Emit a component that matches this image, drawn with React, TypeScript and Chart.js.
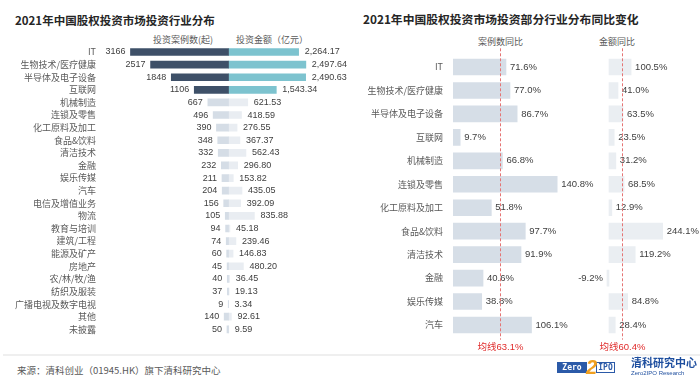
import React, { useEffect, useRef } from "react";
import { Chart, registerables } from "chart.js";
Chart.register(...registerables);

// ---------- data ----------
const leftCategories = [
  "IT", "生物技术/医疗健康", "半导体及电子设备", "互联网", "机械制造", "连锁及零售",
  "化工原料及加工", "食品&饮料", "清洁技术", "金融", "娱乐传媒", "汽车",
  "电信及增值业务", "物流", "教育与培训", "建筑/工程", "能源及矿产", "房地产",
  "农/林/牧/渔", "纺织及服装", "广播电视及数字电视", "其他", "未披露",
];
const caseCounts = [3166, 2517, 1848, 1106, 667, 496, 390, 348, 332, 232, 211, 204, 156, 105, 94, 74, 60, 45, 40, 37, 9, 140, 50];
const investAmounts = [2264.17, 2497.64, 2490.63, 1543.34, 621.53, 418.59, 276.55, 367.37, 562.43, 296.8, 153.82, 435.05, 392.09, 835.88, 45.18, 239.46, 146.83, 480.2, 36.45, 19.13, 3.34, 92.61, 9.59];
const highlightTop = 4;

const rightCategories = [
  "IT", "生物技术/医疗健康", "半导体及电子设备", "互联网", "机械制造", "连锁及零售",
  "化工原料及加工", "食品&饮料", "清洁技术", "金融", "娱乐传媒", "汽车",
];
const caseYoY = [71.6, 77.0, 86.7, 9.7, 66.8, 140.8, 51.8, 97.7, 91.9, 40.6, 38.8, 106.1];
const amountYoY = [100.5, 41.0, 63.5, 23.5, 31.2, 68.5, 12.9, 244.1, 119.2, -9.2, 84.8, 28.4];
const caseYoYMean = 63.1;
const amountYoYMean = 60.4;

// ---------- style ----------
const FONT = "'Liberation Sans', 'Noto Sans CJK SC', sans-serif";
const CJK = "'Noto Sans CJK SC', 'Liberation Sans', sans-serif";
const LABEL_COLOR = "#404040";
const AXIS_COLOR = "#595959";

const fmtAmount = (v: number) =>
  v.toLocaleString("en-US", { minimumFractionDigits: 2, maximumFractionDigits: 2 });

function leftLabelsPlugin() {
  return {
    id: "leftLabels",
    afterDatasetsDraw(chart: any) {
      const ctx = chart.ctx;
      ctx.save();
      ctx.font = `9px ${FONT}`;
      ctx.fillStyle = LABEL_COLOR;
      ctx.textBaseline = "middle";
      const m0 = chart.getDatasetMeta(0);
      const m1 = chart.getDatasetMeta(1);
      m0.data.forEach((el: any, i: number) => {
        ctx.textAlign = "right";
        ctx.fillText(String(caseCounts[i]), el.x - 5, el.y);
      });
      m1.data.forEach((el: any, i: number) => {
        ctx.textAlign = "left";
        ctx.fillText(fmtAmount(investAmounts[i]), el.x + 6, el.y);
      });
      ctx.restore();
    },
  };
}

function yoyPlugin(values: number[], mean: number) {
  return {
    id: "yoyLabels",
    afterDatasetsDraw(chart: any) {
      const ctx = chart.ctx;
      const area = chart.chartArea;
      ctx.save();
      ctx.font = `9.5px ${FONT}`;
      ctx.fillStyle = LABEL_COLOR;
      ctx.textBaseline = "middle";
      const meta = chart.getDatasetMeta(0);
      meta.data.forEach((el: any, i: number) => {
        const v = values[i];
        const t = v.toFixed(1) + "%";
        if (v >= 0) {
          ctx.textAlign = "left";
          ctx.fillText(t, el.x + 4, el.y);
        } else {
          ctx.textAlign = "right";
          ctx.fillText(t, el.x - 4, el.y);
        }
      });
      const mx = Math.round(chart.scales.x.getPixelForValue(mean)) + 0.5;
      ctx.strokeStyle = "#e57373";
      ctx.lineWidth = 1;
      ctx.setLineDash([3, 2]);
      ctx.beginPath();
      ctx.moveTo(mx, area.top - 7);
      ctx.lineTo(mx, area.bottom + 3);
      ctx.stroke();
      ctx.setLineDash([]);
      ctx.fillStyle = "#e02b2b";
      ctx.textAlign = "center";
      ctx.font = `9.5px ${FONT}`;
      ctx.fillText("均线" + mean.toFixed(1) + "%", mx, area.bottom + 10.5);
      ctx.restore();
    },
  };
}

export default function App() {
  const leftRef = useRef<HTMLCanvasElement>(null);
  const caseRef = useRef<HTMLCanvasElement>(null);
  const amtRef = useRef<HTMLCanvasElement>(null);

  useEffect(() => {
    const charts: Chart[] = [];

    charts.push(
      new Chart(leftRef.current!, {
        type: "bar",
        data: {
          labels: leftCategories,
          datasets: [
            {
              label: "投资案例数(起)",
              data: caseCounts.map((v) => -v),
              backgroundColor: caseCounts.map((_, i) => (i < highlightTop ? "#3e5068" : "#d5dde6")),
              barThickness: 7,
            },
            {
              label: "投资金额（亿元）",
              data: investAmounts,
              backgroundColor: investAmounts.map((_, i) => (i < highlightTop ? "#7dc3cf" : "#e9edf2")),
              barThickness: 7,
            },
          ],
        },
        options: {
          indexAxis: "y",
          responsive: false,
          animation: false,
          layout: { padding: { top: 45.7, bottom: 7.7, left: 0, right: 10 } },
          plugins: { legend: { display: false }, tooltip: { enabled: false } },
          scales: {
            x: { stacked: true, display: false, min: -4150, max: 3600 },
            y: {
              stacked: true,
              grid: { display: false, drawTicks: false },
              border: { display: false },
              ticks: { color: AXIS_COLOR, font: { size: 9, family: CJK }, padding: 4, autoSkip: false },
              afterFit: (s: any) => { s.width = 100; },
            },
          },
        } as any,
        plugins: [leftLabelsPlugin()],
      })
    );

    charts.push(
      new Chart(caseRef.current!, {
        type: "bar",
        data: {
          labels: rightCategories,
          datasets: [{ label: "案例数同比", data: caseYoY, backgroundColor: "#d6dee7", barThickness: 16 }],
        },
        options: {
          indexAxis: "y",
          responsive: false,
          animation: false,
          layout: { padding: { top: 55.3, bottom: 18.3, left: 0, right: 28.6 } },
          plugins: { legend: { display: false }, tooltip: { enabled: false } },
          scales: {
            x: { display: false, min: 0, max: 160 },
            y: {
              grid: { display: false, drawTicks: false },
              border: { display: false },
              ticks: { color: AXIS_COLOR, font: { size: 9, family: CJK }, padding: 10, autoSkip: false },
              afterFit: (s: any) => { s.width = 103; },
            },
          },
        } as any,
        plugins: [yoyPlugin(caseYoY, caseYoYMean)],
      })
    );

    charts.push(
      new Chart(amtRef.current!, {
        type: "bar",
        data: {
          labels: rightCategories,
          datasets: [{ label: "金额同比", data: amountYoY, backgroundColor: "#eaeef2", barThickness: 16 }],
        },
        options: {
          indexAxis: "y",
          responsive: false,
          animation: false,
          layout: { padding: { top: 55.3, bottom: 18.3, left: 27, right: 3 } },
          plugins: { legend: { display: false }, tooltip: { enabled: false } },
          scales: {
            x: { display: false, min: -100, max: 400 },
            y: { display: false },
          },
        } as any,
        plugins: [yoyPlugin(amountYoY, amountYoYMean)],
      })
    );

    return () => charts.forEach((c) => c.destroy());
  }, []);

  const abs = (s: React.CSSProperties): React.CSSProperties => ({ position: "absolute", whiteSpace: "nowrap", ...s });

  return (
    <div style={{ position: "absolute", left: 0, top: 0, width: 700, height: 382, background: "#fff", overflow: "hidden", fontFamily: CJK }}>
      <div style={abs({ left: 15, top: 11, fontSize: 11.5, fontWeight: 700, color: "#262626", lineHeight: "18px" })}>
        2021年中国股权投资市场投资行业分布
      </div>
      <div style={abs({ left: 363, top: 10, fontSize: 11.8, fontWeight: 700, color: "#262626", lineHeight: "18px" })}>
        2021年中国股权投资市场投资部分行业分布同比变化
      </div>

      <div style={abs({ left: 153, top: 33, fontSize: 9, color: AXIS_COLOR, lineHeight: "14px" })}>投资案例数(起)</div>
      <div style={abs({ left: 236, top: 33, fontSize: 9, color: AXIS_COLOR, lineHeight: "14px" })}>投资金额（亿元）</div>

      <div style={abs({ left: 478, top: 35, fontSize: 9, color: AXIS_COLOR, lineHeight: "14px" })}>案例数同比</div>
      <div style={abs({ left: 599, top: 35, fontSize: 9, color: AXIS_COLOR, lineHeight: "14px" })}>金额同比</div>

      <canvas ref={leftRef} width={350} height={345} style={{ position: "absolute", left: 0, top: 0 }} />
      <canvas ref={caseRef} width={250} height={355} style={{ position: "absolute", left: 350, top: 0 }} />
      <canvas ref={amtRef} width={140} height={355} style={{ position: "absolute", left: 560, top: 0 }} />

      <div style={abs({ left: 3, top: 354, width: 697, height: 2, background: "#efefef" })} />
      <div style={abs({ left: 17, top: 363, fontSize: 9.5, color: AXIS_COLOR, lineHeight: "14px" })}>
        来源：清科创业（01945.HK）旗下清科研究中心
      </div>

      {/* logo */}
      <div style={abs({ left: 557, top: 362, width: 30, height: 11, background: "#2b5aa8", color: "#fff", fontSize: 8, fontWeight: 700, fontFamily: "'DejaVu Sans Mono', monospace", lineHeight: "11px", textAlign: "center" })}>
        Zero
      </div>
      <div style={abs({ left: 596, top: 362, width: 17, height: 9, border: "1px solid #2b5aa8", color: "#2b5aa8", fontSize: 8, fontWeight: 700, fontFamily: "'DejaVu Sans Mono', monospace", lineHeight: "9px", textAlign: "center" })}>
        IPO
      </div>
      <div style={abs({ left: 586, top: 355, fontSize: 20, fontWeight: 700, fontStyle: "italic", color: "#f0a020", fontFamily: "'Liberation Sans', sans-serif", lineHeight: "24px" })}>
        2
      </div>
      <div style={abs({ left: 631, top: 356, fontSize: 11, fontWeight: 700, color: "#1f4f9f", lineHeight: "13px" })}>清科研究中心</div>
      <div style={abs({ left: 631, top: 369, fontSize: 6, color: "#1f4f9f", fontFamily: "'Liberation Sans', sans-serif", lineHeight: "8px" })}>
        Zero2IPO Research
      </div>
    </div>
  );
}
